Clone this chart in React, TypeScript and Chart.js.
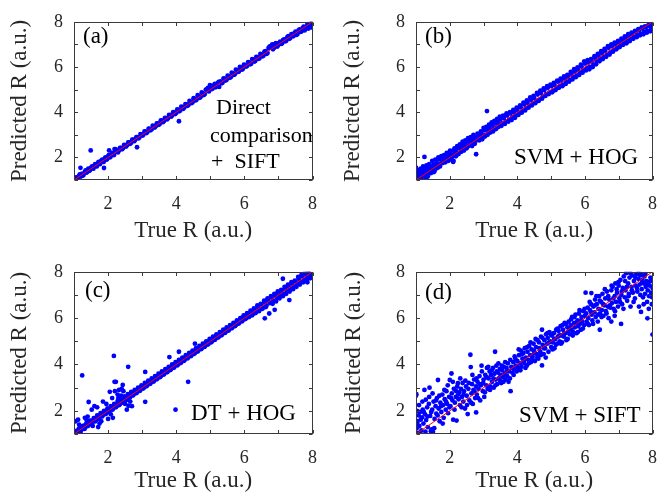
import React, { useEffect, useRef } from 'react';
import { Chart, registerables } from 'chart.js';
Chart.register(...registerables);

const FONT = '"Liberation Serif", "Times New Roman", serif';

// ---- axes / labels ----
const axisMin = 1;
const axisMax = 8;
const tickValues = [1, 2, 3, 4, 5, 6, 7, 8];
const tickLabels = ['', '2', '', '4', '', '6', '', '8'];
const xTitle = 'True R (a.u.)';
const yTitle = 'Predicted R (a.u.)';
const tagA = '(a)';
const tagB = '(b)';
const tagC = '(c)';
const tagD = '(d)';
const methodA = ['Direct', 'comparison', '+  SIFT'];
const methodB = ['SVM + HOG'];
const methodC = ['DT + HOG'];
const methodD = ['SVM + SIFT'];
const identityLine: [number, number][] = [[1, 1], [8, 8]];

// ---- data: [true R, predicted R] ----
const pointsA: [number, number][] = [
  [1.00,1.02],[1.03,1.08],[1.06,1.00],[1.08,1.12],[1.12,1.06],[1.15,1.18],[1.19,1.54],[1.20,1.15],[1.24,1.28],[1.28,1.22],
  [1.32,1.36],[1.36,1.33],[1.40,1.45],[1.44,1.40],[1.49,2.31],[1.50,1.55],[1.55,1.52],[1.60,1.64],[1.65,1.62],[1.70,1.74],
  [1.75,1.70],[1.80,1.86],[1.85,1.82],[1.88,1.53],[1.90,1.93],[1.95,1.90],[2.00,2.04],[2.03,2.31],[2.05,2.00],[2.10,2.14],
  [2.15,2.12],[2.19,2.37],[2.22,2.36],[2.20,2.22],[2.26,2.30],[2.32,2.30],[2.38,2.42],[2.44,2.40],[2.50,2.53],[2.56,2.54],
  [2.62,2.66],[2.68,2.65],[2.74,2.78],[2.80,2.79],[2.85,2.45],[2.86,2.90],[2.92,2.88],[2.98,3.02],[3.04,3.01],[3.10,3.14],
  [3.16,3.13],[3.22,3.26],[3.28,3.25],[3.34,3.38],[3.40,3.38],[3.46,3.50],[3.52,3.49],[3.58,3.63],[3.64,3.61],[3.70,3.74],
  [3.76,3.73],[3.82,3.86],[3.88,3.85],[3.94,3.98],[4.00,3.97],[4.06,4.10],[4.08,3.60],[4.12,4.08],[4.18,4.22],[4.24,4.21],
  [4.30,4.35],[4.36,4.32],[4.42,4.47],[4.48,4.44],[4.54,4.60],[4.60,4.56],[4.66,4.72],[4.72,4.68],[4.78,4.84],[4.84,4.80],
  [4.90,5.00],[4.96,4.92],[5.00,5.12],[5.04,5.02],[5.10,5.18],[5.16,5.10],[5.22,5.30],[5.26,5.12],[5.30,5.36],[5.36,5.30],
  [5.42,5.48],[5.48,5.44],[5.54,5.60],[5.60,5.55],[5.66,5.72],[5.72,5.68],[5.78,5.86],[5.84,5.80],[5.90,5.97],[5.96,5.92],
  [6.02,6.08],[6.08,6.04],[6.14,6.20],[6.20,6.14],[6.26,6.33],[6.32,6.26],[6.38,6.44],[6.44,6.38],[6.50,6.56],[6.56,6.50],
  [6.62,6.70],[6.68,6.62],[6.74,6.90],[6.80,6.95],[6.84,6.78],[6.90,7.02],[6.96,6.90],[7.02,7.05],[7.08,7.02],[7.14,7.20],
  [7.20,7.14],[7.26,7.32],[7.32,7.25],[7.38,7.45],[7.44,7.36],[7.50,7.56],[7.56,7.46],[7.62,7.66],[7.68,7.58],[7.74,7.78],
  [7.80,7.70],[7.85,7.90],[7.90,7.76],[7.95,7.95],[7.98,7.82],[8.00,7.90]
];
const pointsA2: [number, number][] = [
  [1.05,1.10],[1.10,1.02],[1.17,1.25],[1.22,1.18],[1.26,1.20],[1.34,1.42],[1.38,1.34],[1.42,1.50],[1.47,1.43],[1.53,1.60],
  [1.57,1.50],[1.62,1.70],[1.67,1.60],[1.72,1.80],[1.77,1.72],[1.83,1.90],[1.87,1.80],[1.92,2.00],[1.97,1.92],[2.02,2.10],
  [2.07,2.02],[2.12,2.20],[2.17,2.10],[2.24,2.30],[2.29,2.22],[2.35,2.42],[2.41,2.36],[2.47,2.55],[2.53,2.48],[2.59,2.66],
  [2.65,2.60],[2.71,2.78],[2.77,2.72],[2.83,2.90],[2.89,2.84],[2.95,3.03],[3.01,2.96],[3.07,3.15],[3.13,3.08],[3.19,3.27],
  [3.25,3.20],[3.31,3.40],[3.37,3.32],[3.43,3.50],[3.49,3.44],[3.55,3.64],[3.61,3.56],[3.67,3.75],[3.73,3.68],[3.79,3.88],
  [3.85,3.80],[3.91,4.00],[3.97,3.92],[4.03,4.12],[4.09,4.04],[4.15,4.25],[4.21,4.15],[4.27,4.36],[4.33,4.28],[4.39,4.50],
  [4.45,4.40],[4.51,4.62],[4.57,4.52],[4.63,4.75],[4.69,4.64],[4.75,4.88],[4.81,4.76],[4.87,5.00],[4.93,5.08],[4.99,5.20],
  [5.07,5.05],[5.13,5.25],[5.19,5.16],[5.25,5.34],[5.33,5.28],[5.39,5.50],[5.45,5.40],[5.51,5.62],[5.57,5.52],[5.63,5.75],
  [5.69,5.65],[5.75,5.88],[5.81,5.78],[5.87,6.00],[5.93,5.88],[5.99,6.10],[6.05,6.02],[6.11,6.22],[6.17,6.12],[6.23,6.35],
  [6.29,6.24],[6.35,6.45],[6.41,6.36],[6.47,6.58],[6.53,6.47],[6.59,6.68],[6.65,6.58],[6.71,6.84],[6.77,6.92],[6.82,7.00],
  [6.87,6.85],[6.93,7.05],[6.99,6.95],[7.05,7.12],[7.11,7.05],[7.17,7.22],[7.23,7.16],[7.29,7.36],[7.35,7.28],[7.41,7.40],
  [7.47,7.50],[7.53,7.42],[7.59,7.62],[7.65,7.55],[7.71,7.72],[7.77,7.62],[7.83,7.80],[7.88,7.70],[7.93,7.88],[7.97,7.75],
  [8.00,8.00]
];

const pointsB: [number, number][] = [
  [1.00,1.25],[1.00,1.55],[1.02,1.10],[1.05,1.30],[1.08,1.18],[1.10,1.40],[1.12,1.05],[1.15,1.28],[1.18,1.45],[1.20,1.15],
  [1.22,1.35],[1.25,2.02],[1.25,1.22],[1.28,1.50],[1.30,1.10],[1.33,1.38],[1.36,1.25],[1.38,1.55],[1.40,1.42],[1.44,1.30],
  [1.46,1.62],[1.50,1.48],[1.52,1.70],[1.55,1.40],[1.58,1.60],[1.62,1.75],[1.65,1.55],[1.68,1.92],[1.70,1.70],[1.74,1.95],
  [1.76,1.80],[1.80,1.98],[1.84,1.85],[1.88,2.05],[1.92,1.95],[1.95,2.15],[2.00,2.05],[2.02,2.25],[2.05,1.90],[2.08,2.12],
  [2.10,1.80],[2.12,2.30],[2.16,2.18],[2.20,2.38],[2.24,2.20],[2.28,2.45],[2.32,2.35],[2.36,2.55],[2.40,2.40],[2.44,2.62],
  [2.48,2.48],[2.52,2.70],[2.55,2.50],[2.60,2.72],[2.64,2.60],[2.68,2.82],[2.72,2.68],[2.76,2.88],[2.78,2.14],[2.80,2.76],
  [2.85,2.98],[2.90,2.85],[2.94,3.05],[2.98,2.95],[3.02,3.20],[3.06,3.00],[3.10,4.05],[3.10,3.25],[3.14,3.10],[3.18,3.35],
  [3.22,3.18],[3.26,3.45],[3.30,3.28],[3.34,3.50],[3.38,3.30],[3.42,3.60],[3.46,3.45],[3.50,3.68],[3.55,3.50],[3.60,3.75],
  [3.65,3.60],[3.70,3.85],[3.75,3.66],[3.80,3.95],[3.85,3.78],[3.90,4.00],[3.95,3.85],[4.00,4.10],[4.05,3.95],[4.10,4.22],
  [4.15,4.05],[4.20,4.35],[4.25,4.18],[4.30,4.42],[4.35,4.28],[4.40,4.55],[4.45,4.38],[4.50,4.62],[4.55,4.48],[4.60,4.78],
  [4.65,4.56],[4.70,4.85],[4.75,4.68],[4.80,4.98],[4.85,4.80],[4.90,5.08],[4.95,4.88],[5.00,5.15],[5.05,4.95],[5.10,5.20],
  [5.15,5.05],[5.20,5.35],[5.25,5.15],[5.30,5.40],[5.35,5.22],[5.40,5.50],[5.45,5.35],[5.50,5.58],[5.55,5.42],[5.60,5.70],
  [5.65,5.55],[5.70,5.80],[5.75,5.62],[5.80,5.88],[5.85,5.75],[5.90,6.02],[5.95,5.85],[6.00,6.15],[6.05,5.95],[6.10,6.20],
  [6.15,6.00],[6.20,6.25],[6.25,6.10],[6.30,6.40],[6.35,6.25],[6.40,6.50],[6.45,6.35],[6.50,6.62],[6.55,6.45],[6.60,6.72],
  [6.65,6.55],[6.70,6.85],[6.75,6.65],[6.80,6.92],[6.85,6.75],[6.90,7.00],[6.95,6.85],[7.00,7.08],[7.05,6.95],[7.10,7.18],
  [7.15,7.05],[7.20,7.28],[7.25,7.15],[7.30,7.38],[7.35,7.25],[7.40,7.45],[7.45,7.32],[7.50,7.55],[7.55,7.40],[7.60,7.62],
  [7.65,7.48],[7.70,7.70],[7.75,7.55],[7.80,7.75],[7.85,7.60],[7.90,7.82],[7.95,7.65],[8.00,7.78],[8.00,7.60]
];
const pointsB2: [number, number][] = [
  [1.03,1.45],[1.06,1.20],[1.09,1.00],[1.14,1.50],[1.17,1.12],[1.21,1.60],[1.27,1.30],[1.31,1.65],[1.35,1.15],[1.39,1.70],
  [1.43,1.50],[1.48,1.85],[1.53,1.35],[1.57,1.90],[1.61,1.52],[1.66,2.00],[1.71,1.60],[1.75,2.05],[1.79,1.75],[1.83,2.10],
  [1.87,1.78],[1.91,2.20],[1.96,1.85],[2.01,2.30],[2.06,2.00],[2.11,1.85],[2.14,2.40],[2.18,2.05],[2.22,2.50],[2.26,2.15],
  [2.30,2.58],[2.34,2.25],[2.38,2.70],[2.42,2.30],[2.46,2.75],[2.50,2.40],[2.54,2.85],[2.58,2.55],[2.62,2.90],[2.66,2.50],
  [2.70,3.00],[2.74,2.60],[2.82,3.05],[2.87,2.75],[2.92,3.15],[2.96,2.80],[3.00,3.30],[3.04,2.92],[3.08,3.35],[3.12,3.00],
  [3.16,3.45],[3.20,3.10],[3.24,3.55],[3.28,3.15],[3.32,3.62],[3.36,3.25],[3.40,3.70],[3.44,3.35],[3.48,3.80],[3.53,3.40],
  [3.58,3.85],[3.63,3.48],[3.68,3.95],[3.73,3.58],[3.78,4.00],[3.83,3.65],[3.88,4.10],[3.93,3.75],[3.98,4.20],[4.03,3.88],
  [4.08,4.30],[4.13,3.98],[4.18,4.42],[4.23,4.08],[4.28,4.52],[4.33,4.20],[4.38,4.65],[4.43,4.30],[4.48,4.72],[4.53,4.40],
  [4.58,4.85],[4.63,4.50],[4.68,4.95],[4.73,4.60],[4.78,5.05],[4.83,4.72],[4.88,5.15],[4.93,4.80],[4.98,5.22],[5.03,4.88],
  [5.08,5.30],[5.13,4.98],[5.18,5.40],[5.23,5.08],[5.28,5.48],[5.33,5.15],[5.38,5.58],[5.43,5.25],[5.48,5.65],[5.53,5.35],
  [5.58,5.78],[5.63,5.45],[5.68,5.90],[5.73,5.55],[5.78,5.98],[5.83,5.65],[5.88,6.10],[5.93,5.75],[5.98,6.25],[6.03,5.85],
  [6.08,6.30],[6.13,5.90],[6.18,6.35],[6.23,6.00],[6.28,6.48],[6.33,6.12],[6.38,6.58],[6.43,6.25],[6.48,6.70],[6.53,6.35],
  [6.58,6.80],[6.63,6.45],[6.68,6.92],[6.73,6.55],[6.78,7.00],[6.83,6.68],[6.88,7.08],[6.93,6.78],[6.98,7.15],[7.03,6.88],
  [7.08,7.25],[7.13,6.98],[7.18,7.35],[7.23,7.05],[7.28,7.45],[7.33,7.15],[7.38,7.52],[7.43,7.25],[7.48,7.60],[7.53,7.32],
  [7.58,7.68],[7.63,7.40],[7.68,7.75],[7.73,7.45],[7.78,7.80],[7.83,7.52],[7.88,7.85],[7.93,7.58],[7.98,7.88]
];

const pointsC: [number, number][] = [
  [1.00,1.03],[1.03,1.10],[1.05,1.55],[1.06,1.00],[1.09,1.14],[1.12,1.62],[1.13,1.08],[1.16,1.20],[1.20,1.14],[1.24,3.53],
  [1.24,1.30],[1.28,1.22],[1.30,1.25],[1.33,1.38],[1.37,1.60],[1.38,1.33],[1.42,1.48],[1.43,2.38],[1.46,1.42],[1.50,1.56],
  [1.55,1.35],[1.55,1.52],[1.60,2.20],[1.60,1.66],[1.65,1.60],[1.70,1.76],[1.71,1.30],[1.75,1.45],[1.75,1.72],[1.80,1.86],
  [1.85,2.40],[1.85,1.82],[1.90,1.95],[1.95,1.90],[2.00,1.65],[2.00,2.06],[2.05,2.82],[2.05,2.00],[2.10,2.16],[2.14,1.70],
  [2.15,2.10],[2.17,4.37],[2.19,3.25],[2.20,2.85],[2.20,2.26],[2.23,3.25],[2.25,2.20],[2.30,2.55],[2.30,2.36],[2.32,2.90],
  [2.35,2.30],[2.38,2.65],[2.40,2.46],[2.43,3.12],[2.45,2.40],[2.50,2.56],[2.55,2.50],[2.59,3.90],[2.60,2.22],[2.60,2.66],
  [2.65,2.60],[2.70,2.20],[2.70,2.76],[2.75,2.70],[2.80,2.86],[2.85,2.80],[2.90,2.96],[2.95,2.90],[3.00,3.06],[3.05,3.00],
  [3.09,2.39],[3.09,3.68],[3.10,3.16],[3.15,3.10],[3.20,3.26],[3.25,3.20],[3.30,3.36],[3.35,3.30],[3.40,3.46],[3.45,3.40],
  [3.50,3.56],[3.55,3.50],[3.60,3.66],[3.65,3.60],[3.70,3.76],[3.75,3.70],[3.80,4.32],[3.80,3.86],[3.85,3.80],[3.90,3.96],
  [3.95,3.90],[3.98,2.05],[4.00,4.06],[4.05,4.00],[4.08,4.55],[4.10,4.16],[4.15,4.10],[4.20,4.26],[4.25,4.20],[4.30,4.36],
  [4.35,3.25],[4.35,4.30],[4.40,4.46],[4.45,4.40],[4.50,4.56],[4.55,4.90],[4.55,4.50],[4.60,4.66],[4.65,4.60],[4.70,4.76],
  [4.75,4.70],[4.80,4.86],[4.85,4.80],[4.90,4.96],[4.95,4.90],[5.00,5.06],[5.05,5.00],[5.10,5.16],[5.15,5.10],[5.20,5.26],
  [5.25,5.20],[5.30,5.36],[5.35,5.30],[5.40,5.46],[5.45,5.40],[5.50,5.56],[5.55,5.50],[5.60,5.66],[5.65,5.60],[5.70,5.76],
  [5.75,5.70],[5.80,5.86],[5.85,5.80],[5.90,6.00],[5.95,5.90],[6.00,6.10],[6.05,6.00],[6.10,6.18],[6.15,6.08],[6.20,6.26],
  [6.25,6.18],[6.30,6.36],[6.35,6.28],[6.40,6.48],[6.45,6.38],[6.50,6.58],[6.55,6.45],[6.60,5.99],[6.60,6.68],[6.65,6.55],
  [6.70,6.76],[6.75,6.65],[6.80,6.88],[6.85,6.75],[6.89,6.36],[6.90,6.98],[6.95,6.88],[7.00,7.08],[7.05,6.98],[7.10,7.16],
  [7.13,7.70],[7.15,7.06],[7.20,7.28],[7.25,7.18],[7.30,7.38],[7.32,6.78],[7.35,7.28],[7.40,7.48],[7.45,7.38],[7.50,7.58],
  [7.55,7.48],[7.60,7.70],[7.65,7.56],[7.70,7.80],[7.75,7.66],[7.80,7.88],[7.85,7.55],[7.85,7.76],[7.90,7.94],[7.95,7.82],
  [8.00,7.90]
];
const pointsC2: [number, number][] = [
  [1.02,1.12],[1.08,1.02],[1.14,1.22],[1.19,1.10],[1.26,1.35],[1.31,1.22],[1.36,1.45],[1.41,1.35],[1.47,1.58],[1.52,1.45],
  [1.58,1.68],[1.63,1.55],[1.68,1.80],[1.73,1.65],[1.78,1.90],[1.83,1.76],[1.88,2.00],[1.93,1.86],[1.98,2.10],[2.03,1.96],
  [2.08,2.20],[2.13,2.05],[2.18,2.30],[2.23,2.15],[2.28,2.42],[2.33,2.25],[2.38,2.50],[2.43,2.36],[2.48,2.62],[2.53,2.46],
  [2.58,2.72],[2.63,2.56],[2.68,2.82],[2.73,2.66],[2.78,2.90],[2.83,2.76],[2.88,3.00],[2.93,2.86],[2.98,3.10],[3.03,2.96],
  [3.08,3.20],[3.13,3.06],[3.18,3.30],[3.23,3.16],[3.28,3.40],[3.33,3.26],[3.38,3.50],[3.43,3.36],[3.48,3.60],[3.53,3.46],
  [3.58,3.70],[3.63,3.56],[3.68,3.80],[3.73,3.66],[3.78,3.90],[3.83,3.76],[3.88,4.00],[3.93,3.86],[3.98,4.10],[4.03,3.96],
  [4.08,4.20],[4.13,4.06],[4.18,4.30],[4.23,4.16],[4.28,4.40],[4.33,4.26],[4.38,4.50],[4.43,4.36],[4.48,4.60],[4.53,4.46],
  [4.58,4.70],[4.63,4.56],[4.68,4.80],[4.73,4.66],[4.78,4.90],[4.83,4.76],[4.88,5.00],[4.93,4.86],[4.98,5.10],[5.03,4.96],
  [5.08,5.20],[5.13,5.06],[5.18,5.30],[5.23,5.16],[5.28,5.40],[5.33,5.26],[5.38,5.50],[5.43,5.36],[5.48,5.60],[5.53,5.46],
  [5.58,5.70],[5.63,5.56],[5.68,5.80],[5.73,5.66],[5.78,5.90],[5.83,5.76],[5.88,6.00],[5.93,5.86],[5.98,6.12],[6.03,5.96],
  [6.08,6.22],[6.13,6.04],[6.18,6.32],[6.23,6.12],[6.28,6.42],[6.33,6.22],[6.38,6.55],[6.43,6.30],[6.48,6.62],[6.53,6.40],
  [6.58,6.75],[6.63,6.48],[6.68,6.85],[6.73,6.20],[6.78,6.95],[6.83,6.62],[6.88,7.05],[6.93,6.72],[6.98,7.15],[7.03,6.85],
  [7.08,7.22],[7.13,6.95],[7.18,7.35],[7.23,7.05],[7.28,7.45],[7.33,7.15],[7.38,7.55],[7.43,7.25],[7.48,7.62],[7.53,7.35],
  [7.58,7.78],[7.63,7.45],[7.68,7.88],[7.73,7.55],[7.78,7.95],[7.83,7.65],[7.88,7.98],[7.93,7.72],[7.98,7.85],
  [1.32,1.70],[1.52,2.05],[1.68,2.15],[1.95,2.30],[2.12,2.55],[2.28,2.70],[2.40,2.95],[2.50,2.30],[2.65,2.40],[2.45,2.85],
  [1.80,1.55],[2.08,1.85],[2.55,2.05],[1.15,1.40],[1.40,1.75]
];

const pointsD: [number, number][] = [
  [1.00,2.65],[1.01,2.72],[1.02,1.25],[1.03,2.00],[1.05,1.55],[1.06,1.05],[1.08,1.80],[1.10,1.35],[1.12,1.95],[1.14,1.62],
  [1.16,1.15],[1.18,1.72],[1.20,2.05],[1.22,1.45],[1.25,2.90],[1.27,1.85],[1.29,2.48],[1.30,1.60],[1.33,2.15],[1.35,1.30],
  [1.38,2.30],[1.40,3.00],[1.42,1.78],[1.44,1.12],[1.46,1.20],[1.48,2.05],[1.50,1.10],[1.52,2.40],[1.55,1.65],[1.58,2.20],
  [1.60,1.88],[1.62,2.55],[1.65,3.33],[1.67,2.10],[1.70,1.55],[1.72,2.35],[1.75,1.95],[1.78,2.70],[1.80,2.25],[1.82,1.70],
  [1.85,2.50],[1.88,2.05],[1.90,2.85],[1.92,2.30],[1.95,1.90],[1.98,2.60],[2.00,3.33],[2.02,2.20],[2.05,3.61],[2.06,2.75],
  [2.08,2.45],[2.10,1.62],[2.12,2.95],[2.15,2.35],[2.18,2.60],[2.20,1.58],[2.22,3.05],[2.24,3.19],[2.26,2.50],[2.28,2.80],
  [2.30,2.25],[2.33,2.95],[2.36,2.60],[2.38,3.20],[2.40,2.40],[2.42,2.85],[2.45,2.10],[2.48,3.05],[2.50,2.65],[2.53,1.86],
  [2.55,2.95],[2.58,2.45],[2.61,4.42],[2.62,3.89],[2.64,2.75],[2.66,3.15],[2.68,2.30],[2.70,2.90],[2.72,3.35],[2.75,2.55],
  [2.78,1.93],[2.78,3.05],[2.80,2.70],[2.82,3.25],[2.85,2.95],[2.88,3.50],[2.90,2.45],[2.92,3.10],[2.95,3.70],[2.98,2.85],
  [3.00,3.35],[3.02,2.60],[3.05,3.55],[3.08,3.10],[3.10,3.85],[3.12,2.95],[3.15,3.40],[3.18,3.70],[3.20,3.05],[3.22,3.55],
  [3.25,3.25],[3.28,3.85],[3.30,3.00],[3.32,3.60],[3.34,4.55],[3.36,3.35],[3.38,3.95],[3.40,3.15],[3.42,3.65],[3.45,3.40],
  [3.48,3.80],[3.50,3.55],[3.52,3.20],[3.55,3.75],[3.58,3.45],[3.60,3.90],[3.62,3.60],[3.65,3.35],[3.68,3.85],[3.70,3.50],
  [3.72,4.05],[3.75,3.70],[3.78,3.40],[3.80,2.85],[3.82,3.90],[3.85,3.65],[3.88,4.10],[3.90,3.80],[3.92,4.35],[3.95,3.95],
  [3.98,3.70],[4.00,4.15],[4.02,3.85],[4.05,4.40],[4.08,4.05],[4.10,4.60],[4.12,3.90],[4.15,4.25],[4.18,4.50],[4.20,4.05],
  [4.22,4.70],[4.25,4.30],[4.28,3.95],[4.30,4.55],[4.32,4.20],[4.35,4.80],[4.38,4.40],[4.40,4.10],[4.42,4.65],[4.45,4.35],
  [4.48,4.90],[4.50,4.50],[4.52,4.15],[4.55,4.75],[4.58,4.45],[4.60,5.05],[4.62,4.25],[4.65,4.70],[4.68,4.55],[4.70,5.20],
  [4.73,3.96],[4.73,5.50],[4.75,4.85],[4.78,4.45],[4.80,5.05],[4.82,4.70],[4.85,5.30],[4.88,4.90],[4.90,5.15],[4.92,4.55],
  [4.95,5.40],[4.98,5.00],[5.00,4.75],[5.02,5.25],[5.05,4.95],[5.08,5.35],[5.10,4.70],[5.12,5.10],[5.15,5.50],[5.18,4.90],
  [5.20,5.20],[5.22,5.45],[5.25,5.00],[5.28,5.65],[5.30,5.25],[5.32,4.95],[5.35,5.50],[5.38,5.20],[5.40,5.80],[5.42,5.35],
  [5.45,5.05],[5.48,5.60],[5.50,5.40],[5.52,5.85],[5.55,5.30],[5.58,5.70],[5.60,5.50],[5.62,6.05],[5.65,5.40],[5.68,5.80],
  [5.70,5.60],[5.72,6.15],[5.75,5.35],[5.78,5.90],[5.80,5.65],[5.82,6.20],[5.85,5.75],[5.88,5.50],[5.90,6.05],[5.92,5.85],
  [5.95,6.30],[5.98,5.70],[6.00,6.10],[6.02,7.10],[6.05,5.85],[6.08,6.45],[6.10,6.00],[6.12,5.70],[6.15,6.35],[6.18,6.60],
  [6.19,7.08],[6.20,6.15],[6.22,5.90],[6.25,6.50],[6.28,6.25],[6.30,6.80],[6.32,6.05],[6.35,6.60],[6.38,5.85],[6.40,6.40],
  [6.42,6.95],[6.44,5.50],[6.45,6.20],[6.48,6.70],[6.50,6.35],[6.52,7.05],[6.55,6.10],[6.58,6.55],[6.60,6.85],[6.62,6.30],
  [6.65,7.15],[6.68,6.50],[6.70,6.00],[6.72,6.80],[6.75,6.45],[6.78,5.85],[6.78,7.20],[6.80,6.65],[6.82,7.35],[6.85,6.40],
  [6.88,6.10],[6.88,6.95],[6.90,7.50],[6.92,6.70],[6.95,7.10],[6.98,6.50],[7.00,7.40],[7.02,6.85],[7.05,7.65],[7.07,5.75],
  [7.08,7.00],[7.10,6.60],[7.12,7.30],[7.15,7.80],[7.18,6.90],[7.20,7.20],[7.22,7.94],[7.25,6.75],[7.28,7.50],[7.30,7.05],
  [7.32,7.75],[7.35,6.50],[7.38,7.35],[7.40,7.85],[7.42,7.10],[7.45,7.60],[7.48,6.85],[7.50,7.40],[7.52,7.90],[7.55,7.15],
  [7.58,7.70],[7.60,6.50],[7.62,7.45],[7.64,7.85],[7.66,7.90],[7.66,6.27],[7.68,7.25],[7.70,7.65],[7.72,6.90],[7.74,7.50],
  [7.76,7.80],[7.78,7.05],[7.80,7.35],[7.82,7.60],[7.84,6.70],[7.85,5.99],[7.86,7.20],[7.88,7.55],[7.90,6.95],[7.92,7.40],
  [7.94,7.75],[7.96,7.10],[7.98,6.60],[8.00,5.29],[8.00,7.30]
];
const pointsD2: [number, number][] = [
  [1.04,1.40],[1.09,2.25],[1.13,1.00],[1.19,2.40],[1.23,1.95],[1.28,1.10],[1.34,1.75],[1.39,2.60],[1.45,1.95],[1.49,2.75],
  [1.54,1.25],[1.59,2.45],[1.64,1.80],[1.69,2.65],[1.74,2.20],[1.79,1.45],[1.84,2.90],[1.89,2.40],[1.94,3.10],[1.99,2.15],
  [2.04,2.55],[2.09,3.25],[2.14,2.05],[2.19,2.85],[2.25,2.70],[2.31,3.40],[2.35,2.15],[2.41,2.70],[2.46,3.30],[2.51,2.25],
  [2.56,3.20],[2.63,2.35],[2.67,3.55],[2.73,2.85],[2.79,3.40],[2.84,2.55],[2.89,3.15],[2.94,3.95],[2.99,3.20],[3.04,2.80],
  [3.09,3.45],[3.14,3.90],[3.19,2.90],[3.24,3.75],[3.29,3.40],[3.35,3.10],[3.39,3.70],[3.44,4.05],[3.49,3.30],[3.54,3.95],
  [3.59,3.25],[3.64,4.10],[3.69,3.70],[3.74,3.25],[3.79,4.20],[3.84,3.85],[3.89,3.55],[3.94,4.25],[3.99,3.90],[4.04,4.65],
  [4.09,3.75],[4.14,4.45],[4.19,4.15],[4.24,3.85],[4.29,4.75],[4.34,4.05],[4.39,4.95],[4.44,4.25],[4.49,4.60],[4.54,5.10],
  [4.59,4.30],[4.64,4.95],[4.69,4.40],[4.74,5.15],[4.79,4.70],[4.84,4.30],[4.89,5.35],[4.94,4.95],[4.99,5.30],[5.04,4.65],
  [5.09,5.10],[5.14,4.85],[5.19,5.55],[5.24,5.25],[5.29,4.90],[5.34,5.70],[5.39,5.35],[5.44,5.75],[5.49,5.10],[5.54,5.55],
  [5.59,5.95],[5.64,5.25],[5.69,6.05],[5.74,5.80],[5.79,5.40],[5.84,6.35],[5.89,5.90],[5.94,5.55],[5.99,6.40],[6.04,6.20],
  [6.09,5.75],[6.14,6.70],[6.19,6.25],[6.24,5.75],[6.29,6.55],[6.34,6.95],[6.39,6.15],[6.44,6.75],[6.49,6.05],[6.54,6.60],
  [6.59,7.25],[6.64,6.20],[6.69,6.95],[6.74,6.55],[6.79,7.40],[6.84,6.85],[6.89,6.30],[6.94,7.25],[6.99,7.55],[7.04,6.70],
  [7.09,7.15],[7.14,6.40],[7.19,7.60],[7.24,7.35],[7.29,6.95],[7.34,7.95],[7.39,7.20],[7.44,6.70],[7.49,7.75],[7.54,7.30],
  [7.59,7.95],[7.64,7.00],[7.69,7.55],[7.74,6.60],[7.79,7.90],[7.84,7.45],[7.89,6.40],[7.94,7.60],[7.99,6.90]
];

// ---- layout (pixels) ----
type TextItem = { text: string; x: number; y: number; size: number };
type PanelCfg = {
  points: [number, number][];
  left: number; top: number; w: number; h: number;
  yw: number; xh: number; padTop: number; padRight: number;
  yTitlePad: number; xTitlePad: number;
  texts: TextItem[];
};

const panelCfgs: PanelCfg[] = [
  {
    points: [...pointsA, ...pointsA2], left: 0, top: 0, w: 330, h: 250, yw: 74, xh: 70, padTop: 13, padRight: 15,
    yTitlePad: 6, xTitlePad: 5,
    texts: [
      { text: tagA, x: 83, y: 43, size: 23 },
      { text: methodA[0], x: 216, y: 114, size: 22 },
      { text: methodA[1], x: 210, y: 142, size: 22 },
      { text: methodA[2], x: 211, y: 168, size: 22 },
    ],
  },
  {
    points: [...pointsB, ...pointsB2], left: 330, top: 0, w: 340, h: 250, yw: 86, xh: 70, padTop: 13, padRight: 15,
    yTitlePad: 9, xTitlePad: 5,
    texts: [
      { text: tagB, x: 95, y: 43, size: 23 },
      { text: methodB[0], x: 184, y: 164, size: 23 },
    ],
  },
  {
    points: [...pointsC, ...pointsC2], left: 0, top: 250, w: 330, h: 248, yw: 74, xh: 64, padTop: 17, padRight: 15,
    yTitlePad: 6, xTitlePad: 3,
    texts: [
      { text: tagC, x: 85, y: 47, size: 23 },
      { text: methodC[0], x: 191, y: 170, size: 23 },
    ],
  },
  {
    points: [...pointsD, ...pointsD2], left: 330, top: 250, w: 340, h: 248, yw: 86, xh: 64, padTop: 17, padRight: 15,
    yTitlePad: 10, xTitlePad: 3,
    texts: [
      { text: tagD, x: 95, y: 49, size: 23 },
      { text: methodD[0], x: 189, y: 172, size: 23 },
    ],
  },
];

function Panel({ cfg }: { cfg: PanelCfg }) {
  const ref = useRef<HTMLCanvasElement | null>(null);
  useEffect(() => {
    if (!ref.current) return;
    const framePlugin = {
      id: 'frame',
      afterDatasetsDraw(chart: any) {
        const { ctx, chartArea } = chart;
        const { left, right, top, bottom } = chartArea;
        const xs = chart.scales.x;
        const ys = chart.scales.y;
        ctx.save();
        ctx.strokeStyle = '#3a3a3a';
        ctx.lineWidth = 1;
        const L = Math.round(left) + 0.5;
        const R = Math.round(right) - 0.5;
        const T = Math.round(top) + 0.5;
        const B = Math.round(bottom) - 0.5;
        ctx.strokeRect(L, T, R - L, B - T);
        const tl = 3.5;
        ctx.beginPath();
        xs.ticks.forEach((t: any) => {
          const p = Math.round(xs.getPixelForValue(t.value)) + 0.5;
          ctx.moveTo(p, B); ctx.lineTo(p, B - tl);
          ctx.moveTo(p, T); ctx.lineTo(p, T + tl);
        });
        ys.ticks.forEach((t: any) => {
          const p = Math.round(ys.getPixelForValue(t.value)) + 0.5;
          ctx.moveTo(L, p); ctx.lineTo(L + tl, p);
          ctx.moveTo(R, p); ctx.lineTo(R - tl, p);
        });
        ctx.stroke();
        ctx.restore();
      },
      afterDraw(chart: any) {
        const { ctx } = chart;
        ctx.save();
        ctx.fillStyle = '#000000';
        ctx.textAlign = 'left';
        ctx.textBaseline = 'alphabetic';
        cfg.texts.forEach((t) => {
          ctx.font = `${t.size}px ${FONT}`;
          ctx.fillText(t.text, t.x, t.y);
        });
        ctx.restore();
      },
    };

    const tickFont = { family: FONT, size: 18 };
    const titleFont = { family: FONT, size: 23 };
    const labelFor = (v: any) => {
      const i = tickValues.indexOf(Number(v));
      return i >= 0 ? tickLabels[i] : '';
    };

    const chart = new Chart(ref.current, {
      type: 'scatter',
      data: {
        datasets: [
          {
            data: identityLine.map(([x, y]) => ({ x, y })),
            showLine: true,
            borderColor: '#ff0000',
            borderWidth: 1,
            pointRadius: 0,
            backgroundColor: '#ff0000',
          } as any,
          {
            data: cfg.points.map(([x, y]) => ({ x, y })),
            pointRadius: 2.4,
            pointBorderWidth: 0,
            backgroundColor: '#0000ff',
            borderColor: '#0000ff',
            showLine: false,
          } as any,
        ],
      },
      options: {
        responsive: false,
        animation: false,
        devicePixelRatio: 1,
        layout: { padding: { left: 0, top: cfg.padTop, right: cfg.padRight, bottom: 0 } },
        plugins: { legend: { display: false }, tooltip: { enabled: false } },
        scales: {
          x: {
            type: 'linear',
            min: axisMin,
            max: axisMax,
            grid: { display: false, drawTicks: false },
            border: { display: false },
            ticks: {
              stepSize: 1,
              autoSkip: false,
              maxRotation: 0,
              padding: 13,
              color: '#262626',
              font: tickFont,
              callback: labelFor,
            },
            title: {
              display: true,
              text: xTitle,
              color: '#262626',
              font: titleFont,
              padding: { top: 0, bottom: cfg.xTitlePad },
            },
            afterFit: (s: any) => { s.height = cfg.xh; },
          },
          y: {
            type: 'linear',
            min: axisMin,
            max: axisMax,
            grid: { display: false, drawTicks: false },
            border: { display: false },
            ticks: {
              stepSize: 1,
              autoSkip: false,
              padding: 11,
              color: '#262626',
              font: tickFont,
              callback: labelFor,
            },
            title: {
              display: true,
              text: yTitle,
              color: '#262626',
              font: titleFont,
              padding: { top: cfg.yTitlePad, bottom: 0 },
            },
            afterFit: (s: any) => { s.width = cfg.yw; },
          },
        },
      } as any,
      plugins: [framePlugin],
    });
    return () => chart.destroy();
  }, [cfg]);

  return (
    <canvas
      ref={ref}
      width={cfg.w}
      height={cfg.h}
      style={{ position: 'absolute', left: cfg.left, top: cfg.top, width: cfg.w, height: cfg.h }}
    />
  );
}

export default function App() {
  return (
    <div
      style={{
        position: 'absolute',
        left: 0,
        top: 0,
        width: 657,
        height: 498,
        overflow: 'hidden',
        background: '#ffffff',
      }}
    >
      {panelCfgs.map((cfg, i) => (
        <Panel key={i} cfg={cfg} />
      ))}
    </div>
  );
}
